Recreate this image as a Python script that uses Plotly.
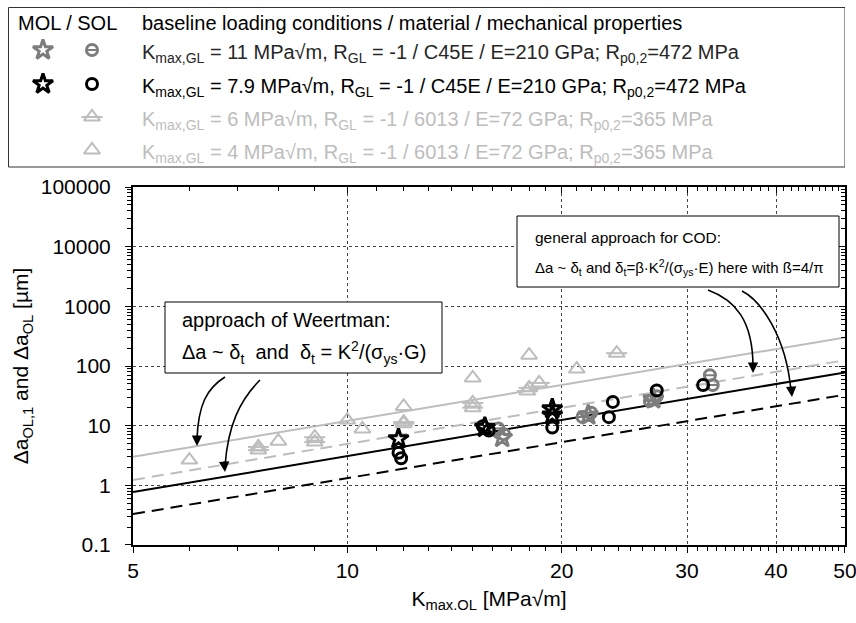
import math
import plotly.graph_objects as go

# ---- values ----
k_line = [5, 50]
da_weertman_6013 = [3.0, 300]     # grey solid
da_cod_6013 = [1.23, 125]         # grey dashed
da_weertman_c45 = [0.77, 78]      # black solid
da_cod_c45 = [0.33, 33]           # black dashed

# 6013, Kmax,GL = 4 MPa√m (SOL, open triangle)
k_6013_k4 = [6.0, 8.0, 10.0, 10.5, 12.0, 15.0, 18.0, 21.0]
da_6013_k4 = [2.65, 5.5, 12.4, 8.8, 21, 63, 152, 89]

# 6013, Kmax,GL = 6 MPa√m (SOL, triangle with bar)
k_6013_k6 = [7.5, 7.5, 9.0, 9.0, 12.0, 12.0, 15.0, 15.0, 17.9, 18.0, 18.6, 23.9]
da_6013_k6 = [4.4, 3.9, 6.4, 5.3, 11.5, 10.8, 24, 20, 38, 43, 52, 164]

# C45E, Kmax,GL = 7.9 MPa√m
k_c45_79_mol = [11.8, 15.6, 19.4, 19.4]
da_c45_79_mol = [6.0, 9.3, 19.0, 15.0]
k_c45_79_sol = [11.8, 11.9, 15.5, 15.8, 19.4, 23.3, 23.6, 27.2, 31.6]
da_c45_79_sol = [3.5, 2.85, 9.8, 8.3, 9.3, 13.9, 25, 39, 48]

# C45E, Kmax,GL = 11 MPa√m
k_c45_11_mol = [16.5, 21.8, 26.9]
da_c45_11_mol = [6.3, 15, 28]
k_c45_11_sol = [16.3, 16.6, 21.4, 22.0, 26.6, 27.2, 32.3, 32.6]
da_c45_11_sol = [9.0, 7.2, 14.0, 16.5, 26, 31, 70, 48]

x_ticks = [5, 10, 20, 30, 40, 50]
y_ticks = [0.1, 1, 10, 100, 1000, 10000, 100000]
y_ticktext = ["0.1", "1", "10", "100", "1000", "10000", "100000"]

legend_rows = [
    "K<sub>max,GL</sub> = 11 MPa√m, R<sub>GL</sub> = -1 / C45E / E=210 GPa; R<sub>p0,2</sub>=472 MPa",
    "K<sub>max,GL</sub> = 7.9 MPa√m, R<sub>GL</sub> = -1 / C45E / E=210 GPa; R<sub>p0,2</sub>=472 MPa",
    "K<sub>max,GL</sub> = 6 MPa√m, R<sub>GL</sub> = -1 / 6013 / E=72 GPa; R<sub>p0,2</sub>=365 MPa",
    "K<sub>max,GL</sub> = 4 MPa√m, R<sub>GL</sub> = -1 / 6013 / E=72 GPa; R<sub>p0,2</sub>=365 MPa",
]

FONT = "Liberation Sans, Arial, sans-serif"
BLACK = "#000000"
GREY = "#7d7d7d"
LIGHT = "#bdbdbd"

x_minor = [v for v in range(6, 50) if v not in x_ticks]
y_minor = [m * 10 ** e for e in range(-1, 5) for m in range(2, 10)]

fig = go.Figure()


def line(y, color, dash):
    fig.add_trace(go.Scatter(x=k_line, y=y, mode="lines", hoverinfo="skip",
                             line=dict(color=color, width=2, dash=dash)))


def points(x, y, symbol, color, size, width, bar=0, xa="x", ya="y"):
    fig.add_trace(go.Scatter(x=x, y=y, mode="markers", xaxis=xa, yaxis=ya,
                             marker=dict(symbol=symbol, size=size, color=color,
                                         line=dict(color=color, width=width))))
    if bar:
        fig.add_trace(go.Scatter(x=x, y=y, mode="markers", xaxis=xa, yaxis=ya,
                                 marker=dict(symbol="line-ew", size=bar, color=color,
                                             line=dict(color=color, width=2))))


line(da_weertman_6013, LIGHT, "solid")
line(da_cod_6013, LIGHT, "12px,7px")
line(da_weertman_c45, BLACK, "solid")
line(da_cod_c45, BLACK, "12px,7px")

points(k_6013_k4, da_6013_k4, "triangle-up-open", LIGHT, 14, 2)
points(k_6013_k6, da_6013_k6, "triangle-up-open", LIGHT, 14, 2, bar=15)
points(k_c45_11_sol, da_c45_11_sol, "circle-open", GREY, 11, 3, bar=8)
points(k_c45_11_mol, da_c45_11_mol, "star-open", GREY, 15, 3)
points(k_c45_79_sol, da_c45_79_sol, "circle-open", BLACK, 11, 3)
points(k_c45_79_mol, da_c45_79_mol, "star-open", BLACK, 15, 3)

# invisible trace so the top / right (inside ticks) axes get drawn
fig.add_trace(go.Scatter(x=k_line, y=da_cod_c45, xaxis="x2", yaxis="y2", mode="lines",
                         line=dict(width=0), opacity=0, hoverinfo="skip"))

# ---- legend table (overlay frame in page pixels) ----
col_x = [43, 92]
row_y = [50, 84, 117, 150]
points([col_x[0]], [row_y[0]], "star-open", GREY, 15, 3, xa="x3", ya="y3")
points([col_x[0]], [row_y[1]], "star-open", BLACK, 15, 3, xa="x3", ya="y3")
points([col_x[1]], [row_y[0]], "circle-open", GREY, 11, 3, bar=8, xa="x3", ya="y3")
points([col_x[1]], [row_y[1]], "circle-open", BLACK, 11, 3, xa="x3", ya="y3")
points([col_x[1]], [row_y[2]], "triangle-up-open", LIGHT, 14, 2, bar=15, xa="x3", ya="y3")
points([col_x[1]], [row_y[3]], "triangle-up-open", LIGHT, 14, 2, xa="x3", ya="y3")

ann = []


def text(x, y, s, size=20, color=BLACK, **kw):
    ann.append(dict(x=x, y=y, xref="x3", yref="y3", text=s, showarrow=False,
                    xanchor="left", yanchor="middle",
                    font=dict(family=FONT, size=size, color=color), **kw))


text(16, 23, "MOL / SOL")
text(140, 23, "baseline loading conditions / material / mechanical properties")
row_colors = ["#262626", BLACK, LIGHT, LIGHT]
for yy, s, c in zip(row_y, legend_rows, row_colors):
    text(140, yy + 3, s, color=c)

text(180, 320, "approach of Weertman:")
text(180, 352, "Δa ~ δ<sub>t</sub>  and  δ<sub>t</sub> = K<sup>2</sup>/(σ<sub>ys</sub>·G)")
text(533, 237, "general approach for COD:", size=15.5)
text(533, 267, "Δa ~ δ<sub>t</sub> and δ<sub>t</sub>=β·K<sup>2</sup>/(σ<sub>ys</sub>·E) here with ß=4/π", size=15)

shapes = [
    dict(type="rect", xref="x3", yref="y3", x0=8.5, y0=7.5, x1=845, y1=167,
         line=dict(color="#333333", width=1)),
    dict(type="rect", xref="x3", yref="y3", x0=165, y0=302, x1=442, y1=373,
         line=dict(color=BLACK, width=1), fillcolor="white", layer="above"),
    dict(type="rect", xref="x3", yref="y3", x0=517, y0=216, x1=839, y1=287,
         line=dict(color=BLACK, width=1), fillcolor="white", layer="above"),
]

# curved arrows
arrows = [
    ("M225,377 C207,388 198,405 197,440", (197, 446), (0, -12)),
    ("M260,380 C240,400 228,425 225,466", (225, 472), (-1, -12)),
    ("M708,290 C735,300 753,320 753,367", (753, 373), (0, -12)),
    ("M742,291 C760,300 786,335 791,391", (792, 397), (-1, -12)),
]
for path, head, off in arrows:
    shapes.append(dict(type="path", xref="x3", yref="y3", path=path,
                       line=dict(color=BLACK, width=1.6), layer="above"))
    ann.append(dict(x=head[0], y=head[1], xref="x3", yref="y3", ax=off[0], ay=off[1],
                    showarrow=True, arrowhead=2, arrowsize=1.3, arrowwidth=1.6,
                    arrowcolor=BLACK, text=""))

axis_font = dict(family=FONT, size=21, color=BLACK)
xr = [math.log10(4.9999), math.log10(50.001)]
yr = [-1.0001, 5.0001]
X_DOM = [(133 - 8) / 837, 1]
Y_DOM = [0, (545 - 187) / 538]

common_x = dict(type="log", range=xr, tickvals=x_ticks, ticktext=[str(v) for v in x_ticks],
                linecolor=BLACK, linewidth=2, zeroline=False, automargin=False,
                ticklen=6, tickwidth=1.2, tickcolor=BLACK)
common_y = dict(type="log", range=yr, tickvals=y_ticks, ticktext=y_ticktext,
                linecolor=BLACK, linewidth=2, zeroline=False, automargin=False,
                ticklen=6, tickwidth=1.2, tickcolor=BLACK)

fig.update_layout(
    width=856, height=623,
    margin=dict(l=8, r=11, t=7, b=78, autoexpand=False),
    paper_bgcolor="white", plot_bgcolor="rgba(0,0,0,0)",
    showlegend=False,
    font=dict(family=FONT, size=20, color=BLACK),
    xaxis=dict(**common_x, domain=X_DOM, anchor="y", ticks="outside", showline=True, mirror=True,
               minor=dict(tickvals=x_minor, ticks="outside", ticklen=4, tickcolor=BLACK, showgrid=False),
               showgrid=True, gridcolor="#444444", griddash="dot", gridwidth=1,
               tickfont=axis_font, ticklabeloverflow="allow",
               title=dict(text="K<sub>max.OL</sub> [MPa√m]", font=dict(family=FONT, size=21), standoff=10)),
    yaxis=dict(**common_y, domain=Y_DOM, anchor="x", ticks="outside", showline=True, mirror=True,
               minor=dict(tickvals=y_minor, ticks="outside", ticklen=4, tickcolor=BLACK, showgrid=False),
               showgrid=True, gridcolor="#444444", griddash="dot", gridwidth=1,
               tickfont=axis_font, ticklabelstandoff=10,
               title=dict(text="Δa<sub>OL,1</sub> and Δa<sub>OL</sub> [µm]", font=dict(family=FONT, size=21), standoff=6)),
    xaxis2=dict(**common_x, overlaying="x", side="top", anchor="y", ticks="inside",
                showline=False, showticklabels=False, showgrid=False,
                minor=dict(tickvals=x_minor, ticks="inside", ticklen=4, tickcolor=BLACK, showgrid=False)),
    yaxis2=dict(**common_y, overlaying="y", side="right", anchor="x", ticks="inside",
                showline=False, showticklabels=False, showgrid=False,
                minor=dict(tickvals=y_minor, ticks="inside", ticklen=4, tickcolor=BLACK, showgrid=False)),
    xaxis3=dict(domain=[0, 1], range=[8, 845], visible=False, anchor="y3", fixedrange=True, automargin=False),
    yaxis3=dict(domain=[0, 1], range=[545, 7], visible=False, anchor="x3", fixedrange=True, automargin=False),
    shapes=shapes,
    annotations=ann,
)

# drop the default 8px body margin so the figure sits at the window origin
fig.write_html("out.html", config={"displayModeBar": False},
               post_script="document.body.style.margin='0';")
